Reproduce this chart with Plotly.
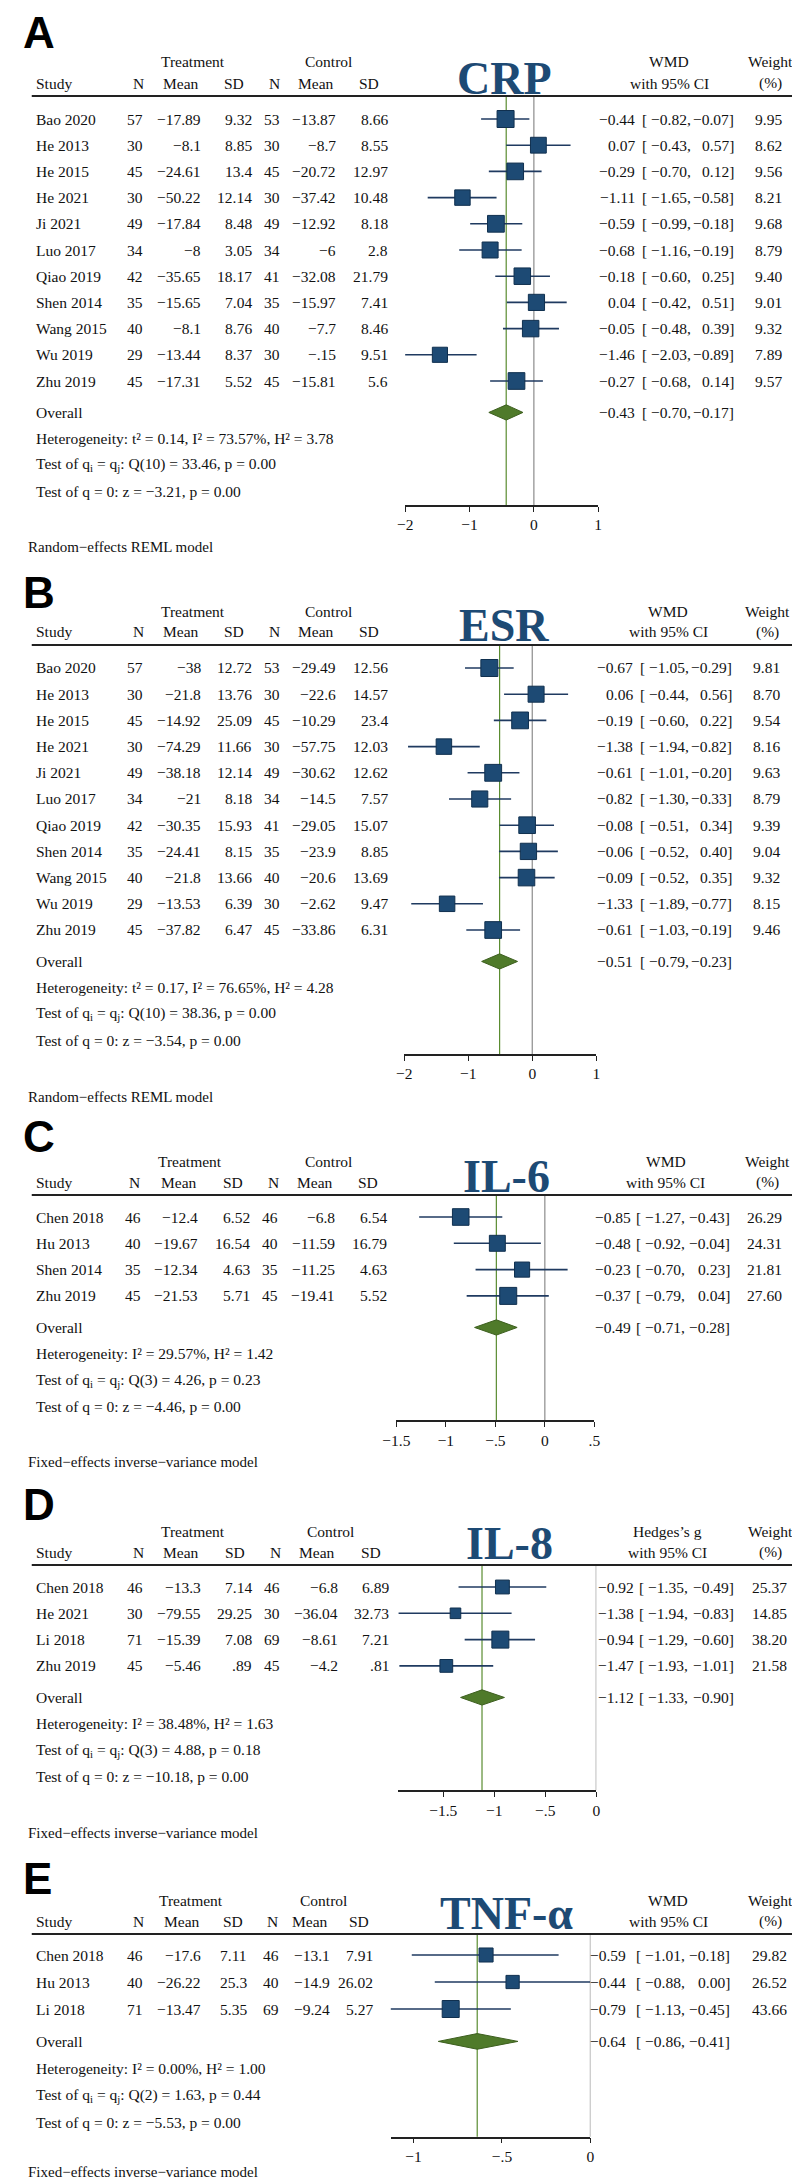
import plotly.graph_objects as go

W, H = 800, 2177
SERIF = "Liberation Serif, Times New Roman, serif"
SANS = "Liberation Sans, Arial, sans-serif"

# ---------------- DATA ----------------
# Panel A: CRP
A_study = ["Bao 2020", "He 2013", "He 2015", "He 2021", "Ji 2021", "Luo 2017",
           "Qiao 2019", "Shen 2014", "Wang 2015", "Wu 2019", "Zhu 2019"]
A_n1 = [57, 30, 45, 30, 49, 34, 42, 35, 40, 29, 45]
A_mean1 = [-17.89, -8.1, -24.61, -50.22, -17.84, -8, -35.65, -15.65, -8.1, -13.44, -17.31]
A_sd1 = [9.32, 8.85, 13.4, 12.14, 8.48, 3.05, 18.17, 7.04, 8.76, 8.37, 5.52]
A_n2 = [53, 30, 45, 30, 49, 34, 41, 35, 40, 30, 45]
A_mean2 = [-13.87, -8.7, -20.72, -37.42, -12.92, -6, -32.08, -15.97, -7.7, -0.15, -15.81]
A_sd2 = [8.66, 8.55, 12.97, 10.48, 8.18, 2.8, 21.79, 7.41, 8.46, 9.51, 5.6]
A_est = [-0.44, 0.07, -0.29, -1.11, -0.59, -0.68, -0.18, 0.04, -0.05, -1.46, -0.27]
A_lo = [-0.82, -0.43, -0.70, -1.65, -0.99, -1.16, -0.60, -0.42, -0.48, -2.03, -0.68]
A_hi = [-0.07, 0.57, 0.12, -0.58, -0.18, -0.19, 0.25, 0.51, 0.39, -0.89, 0.14]
A_w = [9.95, 8.62, 9.56, 8.21, 9.68, 8.79, 9.40, 9.01, 9.32, 7.89, 9.57]
A_overall = [-0.43, -0.70, -0.17]
A_stats = ["Heterogeneity: t² = 0.14, I² = 73.57%, H² = 3.78",
           "Test of q<sub>i</sub> = q<sub>j</sub>: Q(10) = 33.46, p = 0.00",
           "Test of q = 0: z = −3.21, p = 0.00"]
A_ticks = [-2, -1, 0, 1]
A_ticklabels = ["−2", "−1", "0", "1"]

# Panel B: ESR
B_study = ["Bao 2020", "He 2013", "He 2015", "He 2021", "Ji 2021", "Luo 2017",
           "Qiao 2019", "Shen 2014", "Wang 2015", "Wu 2019", "Zhu 2019"]
B_n1 = [57, 30, 45, 30, 49, 34, 42, 35, 40, 29, 45]
B_mean1 = [-38, -21.8, -14.92, -74.29, -38.18, -21, -30.35, -24.41, -21.8, -13.53, -37.82]
B_sd1 = [12.72, 13.76, 25.09, 11.66, 12.14, 8.18, 15.93, 8.15, 13.66, 6.39, 6.47]
B_n2 = [53, 30, 45, 30, 49, 34, 41, 35, 40, 30, 45]
B_mean2 = [-29.49, -22.6, -10.29, -57.75, -30.62, -14.5, -29.05, -23.9, -20.6, -2.62, -33.86]
B_sd2 = [12.56, 14.57, 23.4, 12.03, 12.62, 7.57, 15.07, 8.85, 13.69, 9.47, 6.31]
B_est = [-0.67, 0.06, -0.19, -1.38, -0.61, -0.82, -0.08, -0.06, -0.09, -1.33, -0.61]
B_lo = [-1.05, -0.44, -0.60, -1.94, -1.01, -1.30, -0.51, -0.52, -0.52, -1.89, -1.03]
B_hi = [-0.29, 0.56, 0.22, -0.82, -0.20, -0.33, 0.34, 0.40, 0.35, -0.77, -0.19]
B_w = [9.81, 8.70, 9.54, 8.16, 9.63, 8.79, 9.39, 9.04, 9.32, 8.15, 9.46]
B_overall = [-0.51, -0.79, -0.23]
B_stats = ["Heterogeneity: t² = 0.17, I² = 76.65%, H² = 4.28",
           "Test of q<sub>i</sub> = q<sub>j</sub>: Q(10) = 38.36, p = 0.00",
           "Test of q = 0: z = −3.54, p = 0.00"]
B_ticks = [-2, -1, 0, 1]
B_ticklabels = ["−2", "−1", "0", "1"]

# Panel C: IL-6
C_study = ["Chen 2018", "Hu 2013", "Shen 2014", "Zhu 2019"]
C_n1 = [46, 40, 35, 45]
C_mean1 = [-12.4, -19.67, -12.34, -21.53]
C_sd1 = [6.52, 16.54, 4.63, 5.71]
C_n2 = [46, 40, 35, 45]
C_mean2 = [-6.8, -11.59, -11.25, -19.41]
C_sd2 = [6.54, 16.79, 4.63, 5.52]
C_est = [-0.85, -0.48, -0.23, -0.37]
C_lo = [-1.27, -0.92, -0.70, -0.79]
C_hi = [-0.43, -0.04, 0.23, 0.04]
C_w = [26.29, 24.31, 21.81, 27.60]
C_overall = [-0.49, -0.71, -0.28]
C_stats = ["Heterogeneity: I² = 29.57%, H² = 1.42",
           "Test of q<sub>i</sub> = q<sub>j</sub>: Q(3) = 4.26, p = 0.23",
           "Test of q = 0: z = −4.46, p = 0.00"]
C_ticks = [-1.5, -1, -0.5, 0, 0.5]
C_ticklabels = ["−1.5", "−1", "−.5", "0", ".5"]

# Panel D: IL-8
D_study = ["Chen 2018", "He 2021", "Li 2018", "Zhu 2019"]
D_n1 = [46, 30, 71, 45]
D_mean1 = [-13.3, -79.55, -15.39, -5.46]
D_sd1 = [7.14, 29.25, 7.08, 0.89]
D_n2 = [46, 30, 69, 45]
D_mean2 = [-6.8, -36.04, -8.61, -4.2]
D_sd2 = [6.89, 32.73, 7.21, 0.81]
D_est = [-0.92, -1.38, -0.94, -1.47]
D_lo = [-1.35, -1.94, -1.29, -1.93]
D_hi = [-0.49, -0.83, -0.60, -1.01]
D_w = [25.37, 14.85, 38.20, 21.58]
D_overall = [-1.12, -1.33, -0.90]
D_stats = ["Heterogeneity: I² = 38.48%, H² = 1.63",
           "Test of q<sub>i</sub> = q<sub>j</sub>: Q(3) = 4.88, p = 0.18",
           "Test of q = 0: z = −10.18, p = 0.00"]
D_ticks = [-1.5, -1, -0.5, 0]
D_ticklabels = ["−1.5", "−1", "−.5", "0"]

# Panel E: TNF-α
E_study = ["Chen 2018", "Hu 2013", "Li 2018"]
E_n1 = [46, 40, 71]
E_mean1 = [-17.6, -26.22, -13.47]
E_sd1 = [7.11, 25.3, 5.35]
E_n2 = [46, 40, 69]
E_mean2 = [-13.1, -14.9, -9.24]
E_sd2 = [7.91, 26.02, 5.27]
E_est = [-0.59, -0.44, -0.79]
E_lo = [-1.01, -0.88, -1.13]
E_hi = [-0.18, 0.00, -0.45]
E_w = [29.82, 26.52, 43.66]
E_overall = [-0.64, -0.86, -0.41]
E_stats = ["Heterogeneity: I² = 0.00%, H² = 1.00",
           "Test of q<sub>i</sub> = q<sub>j</sub>: Q(2) = 1.63, p = 0.44",
           "Test of q = 0: z = −5.53, p = 0.00"]
E_ticks = [-1, -0.5, 0]
E_ticklabels = ["−1", "−.5", "0"]

RANDOM_NOTE = "Random−effects REML model"
FIXED_NOTE = "Fixed−effects inverse−variance model"

panels = [
    dict(letter="A", title="CRP", effect="WMD", note=RANDOM_NOTE, study=A_study,
         cols=[A_n1, A_mean1, A_sd1, A_n2, A_mean2, A_sd2], est=A_est, lo=A_lo, hi=A_hi,
         w=A_w, overall=A_overall, stats=A_stats, ticks=A_ticks, ticklabels=A_ticklabels),
    dict(letter="B", title="ESR", effect="WMD", note=RANDOM_NOTE, study=B_study,
         cols=[B_n1, B_mean1, B_sd1, B_n2, B_mean2, B_sd2], est=B_est, lo=B_lo, hi=B_hi,
         w=B_w, overall=B_overall, stats=B_stats, ticks=B_ticks, ticklabels=B_ticklabels),
    dict(letter="C", title="IL-6", effect="WMD", note=FIXED_NOTE, study=C_study,
         cols=[C_n1, C_mean1, C_sd1, C_n2, C_mean2, C_sd2], est=C_est, lo=C_lo, hi=C_hi,
         w=C_w, overall=C_overall, stats=C_stats, ticks=C_ticks, ticklabels=C_ticklabels),
    dict(letter="D", title="IL-8", effect="Hedges’s g", note=FIXED_NOTE, study=D_study,
         cols=[D_n1, D_mean1, D_sd1, D_n2, D_mean2, D_sd2], est=D_est, lo=D_lo, hi=D_hi,
         w=D_w, overall=D_overall, stats=D_stats, ticks=D_ticks, ticklabels=D_ticklabels),
    dict(letter="E", title="TNF-α", effect="WMD", note=FIXED_NOTE, study=E_study,
         cols=[E_n1, E_mean1, E_sd1, E_n2, E_mean2, E_sd2], est=E_est, lo=E_lo, hi=E_hi,
         w=E_w, overall=E_overall, stats=E_stats, ticks=E_ticks, ticklabels=E_ticklabels),
]

# ---------------- LAYOUT (positions in px) ----------------
STD_VALS = [125, 185, 237, 266, 323, 376]
STD_HDRS = [126, 183, 229, 266, 321, 367]
geo = [
    dict(letter_y=24, line=88, first=111, gap=26.2, xdom=(393, 591), xr=(-2, 1),
         vals=STD_VALS, hdrs=STD_HDRS, treat=175, ctrl=314, title_x=495, title_base=86,
         est_r=630, lo_r=687, hi_r=731, w_r=780, hdr_c=664, wt_c=768, note_off=42),
    dict(letter_y=584, line=637, first=660, gap=26.2, xdom=(392, 589), xr=(-2, 1),
         vals=STD_VALS, hdrs=STD_HDRS, treat=175, ctrl=314, title_x=494, title_base=633,
         est_r=628, lo_r=685, hi_r=729, w_r=778, hdr_c=663, wt_c=765, note_off=43),
    dict(letter_y=1128, line=1187, first=1209, gap=26.3, xdom=(384, 587), xr=(-1.5, 0.5),
         vals=[123, 182, 235, 264, 322, 375], hdrs=[122, 180, 228, 265, 320, 366], treat=172, ctrl=314,
         title_x=497, title_base=1184,
         est_r=626, lo_r=681, hi_r=727, w_r=781, hdr_c=660, wt_c=765, note_off=42),
    dict(letter_y=1496, line=1557, first=1579, gap=26.3, xdom=(386, 589), xr=(-1.94, 0),
         vals=[125, 185, 237, 266, 325, 377], hdrs=[126, 183, 230, 267, 322, 369], treat=175, ctrl=316,
         title_x=500, title_base=1551,
         est_r=629, lo_r=684, hi_r=731, w_r=786, hdr_c=662, wt_c=768, note_off=43),
    dict(letter_y=1871, line=1926, first=1947, gap=27.0, xdom=(378, 583), xr=(-1.13, 0),
         vals=[125, 185, 232, 265, 317, 361], hdrs=[126, 184, 228, 264, 315, 357], treat=173, ctrl=309,
         title_x=497, title_base=1921,
         est_r=620, lo_r=681, hi_r=727, w_r=786, hdr_c=663, wt_c=768, note_off=35),
]

OVERALL_GAP = 1.2
AXIS_AFTER = 0.53
FS = 15.5
BLUE = "#1d4a74"
CI_COL = "#1f3a60"
GREEN = "#4f7a2a"
GREEN_LINE = "#5a8c30"
GRAY_LINE = "#8c8c8c"


def fmt_g(v):
    s = f"{v:g}"
    neg = s.startswith("-")
    s = s.lstrip("-")
    if s.startswith("0."):
        s = s[1:]
    return ("−" if neg else "") + s


def fmt2(v):
    s = f"{abs(v):.2f}"
    return ("−" if v < 0 else "") + s


def py(px):
    return 1 - px / H


fig = go.Figure()
annotations = []
shapes = []


def ann(text, x, y, yref, xanchor="left", size=FS, color="#111111", family=SERIF):
    annotations.append(dict(text=text, x=x / W, xref="paper", y=y, yref=yref,
                            xanchor=xanchor, yanchor="middle", showarrow=False,
                            borderpad=0, font=dict(family=family, size=size, color=color)))


for k, (p, g) in enumerate(zip(panels, geo), start=1):
    xa = "x" if k == 1 else f"x{k}"
    ya = "y" if k == 1 else f"y{k}"
    n = len(p["study"])
    rows = list(range(n))
    y_overall = n - 1 + OVERALL_GAP
    y_stats = [y_overall + 1 + j for j in range(len(p["stats"]))]
    y_axis = y_stats[-1] + AXIS_AFTER
    y_top = -(g["first"] - g["line"]) / g["gap"]
    axis_px = g["first"] + y_axis * g["gap"]

    # axes
    fig.layout[f"xaxis{'' if k == 1 else k}"] = dict(
        domain=[g["xdom"][0] / W, g["xdom"][1] / W], range=list(g["xr"]), anchor=ya,
        showline=True, linecolor="#222222", linewidth=1.5, ticks="outside", ticklen=5,
        tickwidth=1.2, tickcolor="#222222", tickvals=p["ticks"], ticktext=p["ticklabels"],
        tickfont=dict(family=SERIF, size=FS, color="#111111"), showgrid=False,
        zeroline=False, fixedrange=True)
    fig.layout[f"yaxis{'' if k == 1 else k}"] = dict(
        domain=[py(axis_px), py(g["line"])], range=[y_axis, y_top], anchor=xa,
        visible=False, showgrid=False, zeroline=False, fixedrange=True)

    # reference lines
    shapes.append(dict(type="line", xref=xa, yref=f"{ya} domain", x0=p["overall"][0],
                       x1=p["overall"][0], y0=0, y1=1, layer="below",
                       line=dict(color=GREEN_LINE, width=1.2)))
    shapes.append(dict(type="line", xref=xa, yref=f"{ya} domain", x0=0, x1=0, y0=0, y1=1,
                       layer="below", line=dict(color=GRAY_LINE, width=1.2)))
    # header rule
    shapes.append(dict(type="line", xref="paper", yref="paper", x0=10 / W, x1=1,
                       y0=py(g["line"]), y1=py(g["line"]), line=dict(color="#222222", width=2)))

    # CI lines
    cx, cy = [], []
    for i in rows:
        cx += [p["lo"][i], p["hi"][i], None]
        cy += [i, i, None]
    fig.add_trace(go.Scatter(x=cx, y=cy, mode="lines", xaxis=xa, yaxis=ya, cliponaxis=False,
                             line=dict(color=CI_COL, width=1.6), hoverinfo="skip",
                             showlegend=False))
    # squares
    wmax = max(p["w"])
    sizes = [17 * (wi / wmax) ** 0.5 for wi in p["w"]]
    fig.add_trace(go.Scatter(x=p["est"], y=rows, mode="markers", xaxis=xa, yaxis=ya,
                             opacity=1,
                             marker=dict(symbol="square", size=sizes, color=BLUE, opacity=1,
                                         line=dict(color="#10304f", width=1)),
                             cliponaxis=False, showlegend=False))
    # diamond
    est, lo, hi = p["overall"]
    hh = 0.29
    fig.add_trace(go.Scatter(x=[lo, est, hi, est, lo],
                             y=[y_overall, y_overall - hh, y_overall, y_overall + hh, y_overall],
                             mode="lines", fill="toself", fillcolor=GREEN, xaxis=xa, yaxis=ya,
                             line=dict(color="#3d5f1f", width=1), showlegend=False))

    # panel letter and big title
    annotations.append(dict(text=f"<b>{p['letter']}</b>", x=0, xref="paper",
                            y=py(g["letter_y"]), yref="paper", xanchor="left",
                            yanchor="middle", showarrow=False, borderpad=0,
                            font=dict(family=SANS, size=44, color="#000000")))
    annotations.append(dict(text=f"<b>{p['title']}</b>", x=g["title_x"] / W, xref="paper",
                            y=py(g["title_base"] - 15.5), yref="paper", xanchor="center",
                            yanchor="middle", showarrow=False, borderpad=0,
                            font=dict(family=SERIF, size=46, color=BLUE)))

    # headers
    hy1 = py(g["line"] - 34)
    hy2 = py(g["line"] - 13)
    ann("Treatment", g["treat"], hy1, "paper", "center")
    ann("Control", g["ctrl"], hy1, "paper", "center")
    ann("Study", 13, hy2, "paper")
    for xr_, t in zip(g["hdrs"], ["N", "Mean", "SD", "N", "Mean", "SD"]):
        ann(t, xr_, hy2, "paper", "right")
    ann(p["effect"], g["hdr_c"], hy1, "paper", "center")
    ann("with 95% CI", g["hdr_c"], hy2, "paper", "center")
    ann("Weight", g["wt_c"], hy1, "paper", "center")
    ann("(%)", g["wt_c"], hy2, "paper", "center")

    # table rows
    for i in rows:
        ann(p["study"][i], 13, i, ya)
        for j, col in enumerate(p["cols"]):
            ann(fmt_g(col[i]), g["vals"][j], i, ya, "right")
        ann(fmt2(p["est"][i]), g["est_r"], i, ya, "right")
        ann("[ " + fmt2(p["lo"][i]) + ",", g["lo_r"], i, ya, "right")
        ann(fmt2(p["hi"][i]) + "]", g["hi_r"], i, ya, "right")
        ann(f"{p['w'][i]:.2f}", g["w_r"], i, ya, "right")

    # overall row
    ann("Overall", 13, y_overall, ya)
    ann(fmt2(est), g["est_r"], y_overall, ya, "right")
    ann("[ " + fmt2(lo) + ",", g["lo_r"], y_overall, ya, "right")
    ann(fmt2(hi) + "]", g["hi_r"], y_overall, ya, "right")

    for ys, s in zip(y_stats, p["stats"]):
        ann(s, 13, ys, ya)

    ann(p["note"], 5, py(axis_px + g["note_off"]), "paper", size=15)

fig.update_layout(width=W, height=H, margin=dict(l=0, r=0, t=0, b=0),
                  paper_bgcolor="white", plot_bgcolor="white",
                  annotations=annotations, shapes=shapes, showlegend=False)

fig.write_html("out.html")
